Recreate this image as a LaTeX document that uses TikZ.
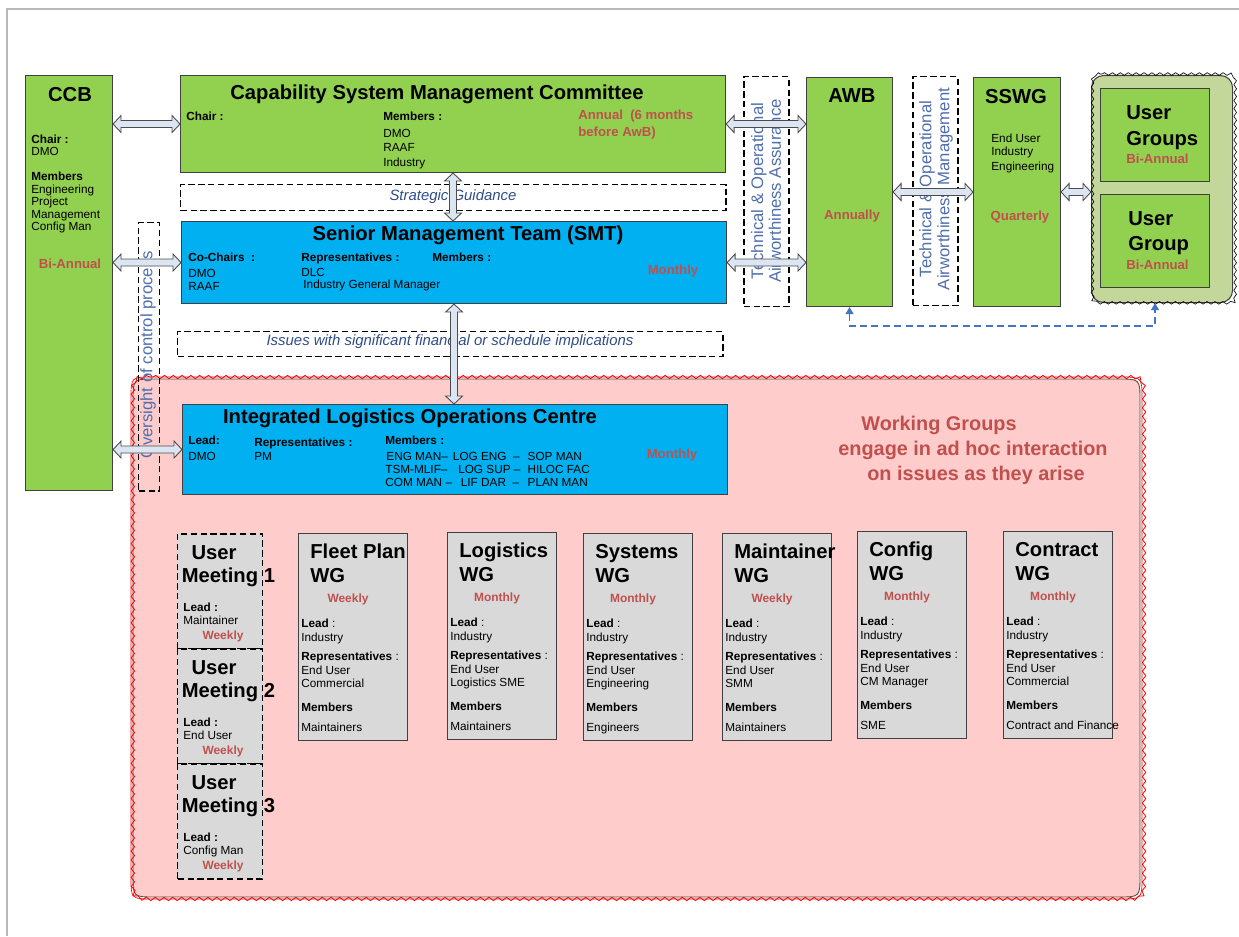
\documentclass[tikz,border=0pt]{standalone}
\usepackage{fontspec}
\setmainfont{Liberation Sans}
\usetikzlibrary{calc,arrows.meta,decorations.pathmorphing}

\definecolor{boxgreen}{HTML}{92D050}
\definecolor{boxblue}{HTML}{00B0F0}
\definecolor{boxgray}{HTML}{D9D9D9}
\definecolor{freqred}{HTML}{C0504D}
\definecolor{wgpink}{HTML}{FFCCCC}
\definecolor{ugolive}{HTML}{C4D79B}
\definecolor{notetext}{HTML}{4F6EAD}
\definecolor{guidetext}{HTML}{2F4C88}
\definecolor{arrowfill}{HTML}{DCE6F2}
\definecolor{linkblue}{HTML}{4472C4}

% font sizes
\newcommand{\ttlsize}{\fontsize{11.5}{13.6}\selectfont\bfseries}
\newcommand{\txtsize}{\fontsize{6.7}{7.9}\selectfont}
\newcommand{\frqsize}{\fontsize{7.5}{9.6}\selectfont\bfseries}
\newcommand{\frqsmall}{\fontsize{6.8}{8}\selectfont\bfseries}
\newcommand{\notesize}{\fontsize{9.5}{10.2}\selectfont}

% hollow double block arrows (left/right, top/bottom)
\newcommand{\hdblarrow}[2]{%
  \draw[dblarrow] (#1) -- ($(#1)+(8,-8.5)$) -- ($(#1)+(8,-3.5)$) -- ($(#2)+(-8,-3.5)$)
    -- ($(#2)+(-8,-8.5)$) -- (#2) -- ($(#2)+(-8,8.5)$) -- ($(#2)+(-8,3.5)$)
    -- ($(#1)+(8,3.5)$) -- ($(#1)+(8,8.5)$) -- cycle;}
\newcommand{\vdblarrow}[2]{%
  \draw[dblarrow] (#1) -- ($(#1)+(8.5,8)$) -- ($(#1)+(3.5,8)$) -- ($(#2)+(3.5,-8)$)
    -- ($(#2)+(8.5,-8)$) -- (#2) -- ($(#2)+(-8.5,-8)$) -- ($(#2)+(-3.5,-8)$)
    -- ($(#1)+(-3.5,8)$) -- ($(#1)+(-8.5,8)$) -- cycle;}
% rounded outline that a decoration can follow: x1, y1, x2, y2, radius
\newcommand{\roundframe}[5]{(#1+#5,#2) -- (#3-#5,#2) .. controls (#3,#2) .. (#3,#2+#5) -- (#3,#4-#5)
    .. controls (#3,#4) .. (#3-#5,#4) -- (#1+#5,#4) .. controls (#1,#4) .. (#1,#4-#5)
    -- (#1,#2+#5) .. controls (#1,#2) .. (#1+#5,#2) -- cycle}

\begin{document}
\begin{tikzpicture}[x=0.02cm, y=-0.02cm,
    wh/.style 2 args={minimum width={#1*0.02cm}, minimum height={#2*0.02cm}},
    box/.style={draw=black!75, line width=0.6pt, inner sep=0pt, anchor=north west},
    dashbox/.style={draw=black, line width=0.85pt, dash pattern=on 3.6pt off 2pt, inner sep=0pt, anchor=north west},
    ttl/.style={font=\ttlsize, inner sep=0pt},
    txt/.style={font=\txtsize, inner sep=0pt, align=left, anchor=north west},
    frq/.style={font=\frqsize, text=freqred, inner sep=0pt},
    frqs/.style={font=\frqsmall, text=freqred, inner sep=0pt},
    note/.style={font=\notesize, text=notetext, inner sep=0pt},
    guide/.style={font=\itshape\fontsize{8.5}{10}\selectfont, text=guidetext, inner sep=0pt},
    dblarrow/.style={draw=black!70, fill=arrowfill, line width=0.5pt, line join=miter}]
    \useasboundingbox (0,0) rectangle (1239,936);

    % page frame
    \draw[gray!55, line width=0.8pt] (7,936) -- (7,9) -- (1239,9);

    % working groups area
    \draw[fill=wgpink, draw=black!70, line width=0.5pt] \roundframe{133}{379}{1140}{897}{22};
    \draw[red, line width=0.4pt] \roundframe{131}{377}{1142}{899}{22};
    \draw[red, line width=0.45pt, decorate, decoration={snake, amplitude=0.95pt, segment length=5pt}]
        \roundframe{131}{377}{1142}{899}{22};

    % CCB
    \node[box, fill=boxgreen, wh={87}{415}] (ccb) at (25,75) {};
    \node[ttl] (ccbT) at (70,95) {CCB};
    \node[txt, font=\fontsize{6.7}{7.1}\selectfont] (ccbM) at (31,134.5)
        {\textbf{Chair :}\\ DMO\\[7.1pt] \textbf{Members}\\ Engineering\\ Project\\ Management\\ Config Man};
    \node[frq] (ccbF) at (70,264) {Bi-Annual};

    % Capability System Management Committee
    \node[box, fill=boxgreen, wh={545}{97}] (csmc) at (180,75) {};
    \node[ttl] (csmcT) at (437,94) {Capability System Management Committee};
    \node[txt] (csmcC) at (186,111.5) {\textbf{Chair :}};
    \node[txt, font=\fontsize{6.7}{8.2}\selectfont] (csmcM) at (383,111.5)
        {\textbf{Members :}\\[1.4pt] DMO\\ RAAF\\ Industry};
    \node[frq, anchor=north west, align=left] (csmcF) at (578,110) {Annual~~(6 months\\before AwB)};

    % strategic guidance
    \node[dashbox, wh={545}{26}] (strat) at (180,184) {};
    \node[guide] (stratT) at (453,197) {Strategic Guidance};

    % Senior Management Team
    \node[box, fill=boxblue, wh={545}{82}] (smt) at (181,221) {};
    \node[ttl] (smtT) at (468,235) {Senior Management Team (SMT)};
    \node[txt, font=\fontsize{6.7}{7.4}\selectfont] (smtC) at (188,252.5) {\textbf{Co-Chairs~~:}\\[1.7pt] DMO\\ RAAF};
    \node[txt, font=\fontsize{6.7}{7.0}\selectfont] (smtR) at (301,252.5)
        {\textbf{Representatives :}\\[1.7pt] DLC\\ \hspace{1.2pt}Industry General Manager};
    \node[txt] (smtM) at (432,252.5) {\textbf{Members :}};
    \node[frq] (smtF) at (673,271) {Monthly};

    % issues
    \node[dashbox, wh={545}{25}] (issues) at (177,331) {};
    \node[guide] (issuesT) at (450,342) {Issues with significant financial or schedule implications};

    % Integrated Logistics Operations Centre
    \node[box, fill=boxblue, wh={545}{90}] (iloc) at (182,404) {};
    \node[ttl] (ilocT) at (410,418) {Integrated Logistics Operations Centre};
    \node[txt, font=\fontsize{6.7}{7.4}\selectfont] (ilocL) at (188,435.5) {\textbf{Lead:}\\[1.6pt] DMO};
    \node[txt] (ilocR) at (254,437.5) {\textbf{Representatives :}\\ PM};
    \node[txt, font=\fontsize{6.7}{7.4}\selectfont] (ilocM) at (385,435.5)
        {\textbf{Members :}\\[1.6pt]
         \makebox[38.5pt][l]{\hspace{0.6pt}ENG MAN–}\makebox[42.5pt][l]{LOG ENG~~–}SOP MAN\\
         \makebox[38.5pt][l]{TSM-MLIF–}\makebox[42.5pt][l]{\hspace{3pt}LOG SUP –}HILOC FAC\\
         \makebox[38.5pt][l]{COM MAN~–}\makebox[42.5pt][l]{\hspace{4.5pt}LIF DAR~~–}PLAN MAN};
    \node[frq] (ilocF) at (672,455) {Monthly};

    % airworthiness assurance
    \node[dashbox, wh={45}{230}] (toaA) at (743,76) {};
    \node[note, rotate=90, align=center] (toaAT) at (766,191) {Technical \& Operational\\Airworthiness Assurance};

    % AWB
    \node[box, fill=boxgreen, wh={86}{229}] (awb) at (806,77) {};
    \node[ttl] (awbT) at (852,96) {AWB};
    \node[frq] (awbF) at (852,216) {Annually};

    % airworthiness management
    \node[dashbox, wh={45}{229}] (toaM) at (912,76) {};
    \node[note, rotate=90, align=center] (toaMT) at (936,189) {Technical \& Operational\\Airworthiness Management};

    % SSWG
    \node[box, fill=boxgreen, wh={87}{229}] (sswg) at (973,77) {};
    \node[ttl] (sswgT) at (1016,97) {SSWG};
    \node[txt, font=\fontsize{6.7}{7.4}\selectfont] (sswgM) at (991,133.5) {End User\\ Industry\\[1.4pt] Engineering};
    \node[frq] (sswgF) at (1020,217) {Quarterly};

    % user groups
    \node[box, fill=ugolive, rounded corners=0.24cm, wh={141}{227}] (ug) at (1091,75) {};
    \draw[black, line width=0.35pt, decorate, decoration={snake, amplitude=0.75pt, segment length=4.5pt}]
        \roundframe{1090}{74}{1233}{303}{12};
    \node[box, fill=boxgreen, wh={109}{93}] (ugA) at (1100,88) {};
    \node[ttl, anchor=north west, align=left, font=\fontsize{11.5}{14.7}\selectfont\bfseries] (ugAT) at (1126,105.5) {User\\Groups};
    \node[frq, anchor=west] (ugAF) at (1126,159) {Bi-Annual};
    \node[box, fill=boxgreen, wh={109}{93}] (ugB) at (1100,194) {};
    \node[ttl, anchor=north west, align=left, font=\fontsize{11.5}{14.2}\selectfont\bfseries] (ugBT) at (1128,211.5) {User\\Group};
    \node[frq, anchor=west] (ugBF) at (1126,265) {Bi-Annual};

    % oversight
    \node[dashbox, wh={21}{268}] (over) at (138,222) {};
    \node[note, rotate=90] (overT) at (148,355) {Oversight of control process};

    % working groups note
    \node[frq, font=\fontsize{11.3}{13}\selectfont\bfseries] (wgNa) at (939,425) {Working Groups};
    \node[frq, font=\fontsize{11.3}{13}\selectfont\bfseries] (wgNb) at (973,450) {engage in ad hoc interaction};
    \node[frq, font=\fontsize{11.3}{13}\selectfont\bfseries] (wgNc) at (976,475) {on issues as they arise};

    % user meetings
    \foreach \i/\T/\lead in {1/533/Maintainer, 2/648/End User, 3/763/Config Man} {
        \node[dashbox, fill=boxgray, wh={85}{115}] (um\i) at (177,\T) {};
        \node[ttl] (umU\i) at (214,\T+20) {User};
        \node[ttl, anchor=west] (umM\i) at (181.5,\T+44) {Meeting \i};
        \node[txt, font=\fontsize{6.7}{7.2}\selectfont] (umL\i) at (183,\T+69.5) {\textbf{Lead :}\\ \lead};
        \node[frqs] (umF\i) at (223,\T+103) {Weekly};
    }

    % working group boxes
    \foreach \L/\T/\nm/\ttl/\fr/\rep/\mem in {
        298/533/fleet/Fleet Plan/Weekly/Commercial/Maintainers,
        447/532/logi/Logistics/Monthly/Logistics SME/Maintainers,
        583/533/sys/Systems/Monthly/Engineering/Engineers,
        722/533/maint/Maintainer/Weekly/SMM/Maintainers,
        857/531/cfg/Config/Monthly/CM Manager/SME,
        1003/531/contr/Contract/Monthly/Commercial/Contract and Finance} {
        \node[box, fill=boxgray, wh={109}{207}] (wg\nm) at (\L,\T) {};
        \node[ttl, anchor=north west, align=left] (wgT\nm) at (\L+12,\T+10.8) {\ttl\\WG};
        \node[frqs] (wgF\nm) at (\L+50,\T+66) {\fr};
        \node[txt] (wgB\nm) at (\L+3,\T+85.6)
            {\textbf{Lead} :\\ Industry\\[2.8pt] \textbf{Representatives} :\\ End User\\ \rep\\[5.7pt]
             \textbf{Members}\\[3.4pt] \mem};
    }

    % block arrows
    \coordinate (aCcbCsmc) at (ccb.east |- csmc.west);
    \coordinate (aCcbSmt) at (ccb.east |- smt.west);
    \coordinate (aCcbIloc) at (ccb.east |- iloc.west);
    \coordinate (aCsmcAwb) at (csmc.east -| awb.west);
    \coordinate (aSmtAwb) at (smt.east -| awb.west);
    \coordinate (aSswgUg) at (sswg.east -| ug.west);
    \coordinate (aCsmcSmt) at (csmc.south |- smt.north);
    \coordinate (aSmtIloc) at (smt.south |- iloc.north);
    \hdblarrow{aCcbCsmc}{csmc.west}
    \hdblarrow{aCcbSmt}{smt.west}
    \hdblarrow{aCcbIloc}{iloc.west}
    \hdblarrow{csmc.east}{aCsmcAwb}
    \hdblarrow{smt.east}{aSmtAwb}
    \hdblarrow{awb.east}{sswg.west}
    \hdblarrow{sswg.east}{aSswgUg}
    \vdblarrow{csmc.south}{aCsmcSmt}
    \vdblarrow{smt.south}{aSmtIloc}

    % AWB to user groups
    \coordinate (ugLink) at ($(ug.south)+(-7,0)$);
    \draw[linkblue, line width=0.9pt, dash pattern=on 4pt off 2.5pt,
        {Triangle[length=4pt,width=4.5pt]}-{Triangle[length=4pt,width=4.5pt]}]
        (awb.south) -- ++(0,19) -| (ugLink);
\end{tikzpicture}
\end{document}
